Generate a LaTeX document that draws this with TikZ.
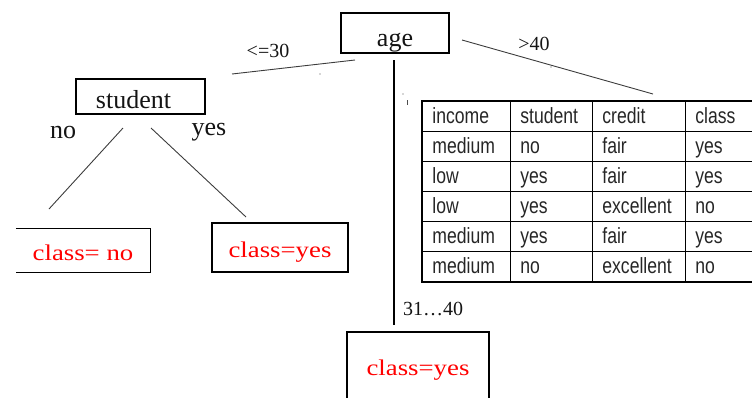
\documentclass[tikz,border=0pt]{standalone}
\usepackage{fontspec}
\setmainfont{Liberation Serif}
\newfontfamily\tblfont[FakeStretch=0.8]{Liberation Sans}
\newfontfamily\redfont[FakeStretch=1.19]{Liberation Serif}
\definecolor{lbl}{RGB}{20,20,20}
\definecolor{conn}{RGB}{60,60,60}
\begin{document}
\begin{tikzpicture}[x=1pt,y=-1pt,
  box/.style={draw=black,line width=1.3pt,inner sep=0pt},
  blk/.style={font=\fontsize{26}{28}\selectfont,text=lbl},
  leaf/.style={font=\redfont\fontsize{22.5}{24}\selectfont,text=red},
  edgelbl/.style={font=\fontsize{20}{22}\selectfont,text=lbl,inner sep=0pt,anchor=base},
  branch/.style={draw=conn,line width=0.9pt},
  cell/.style={draw=black,line width=0.8pt,anchor=north west,inner xsep=10pt,inner ysep=0pt,
    minimum height=30pt,text height=17pt,text depth=2pt,align=left,
    font=\tblfont\fontsize{22}{24}\selectfont,text=black!85}]
\useasboundingbox (0,0) rectangle (752,397);
\clip (0,0) rectangle (752,397);

% tree nodes
\node[box,blk,minimum width=108pt,minimum height=40pt,text height=28pt,text depth=2pt] (age) at (395,33) {age};
\node[box,blk,minimum width=129pt,minimum height=35pt,text height=25pt,text depth=2pt] (student) at (140.5,96.5) {student\hspace*{14pt}};
\node[leaf,inner sep=0pt,minimum width=134pt,minimum height=43pt,text height=21pt,text depth=2pt] (cno) at (83,250.5) {class= no};
\draw[line width=1.3pt] (cno.north west) -- (cno.north east) -- (cno.south east) -- (cno.south west);
\node[box,leaf,minimum width=136pt,minimum height=49pt,text height=21pt,text depth=2pt] (cyes) at (280,247.5) {class=yes};
\node[box,leaf,minimum width=142pt,minimum height=86pt,text height=12pt,text depth=12pt] (cmid) at (418,375) {class=yes};

% edge labels
\node[edgelbl] (l30) at (268,57) {<=30};
\node[edgelbl] (l40) at (534,50) {>40};
\node[edgelbl] (l3140) at (433,315) {31\ldots40};
\node[blk,inner sep=0pt,anchor=base] (lno) at (63,138) {no};
\node[blk,inner sep=0pt,anchor=base] (lyes) at (209,135) {yes};

% connector end points
\coordinate (a1) at (355,60); \coordinate (s1) at (232,74);
\coordinate (a2) at (462,40); \coordinate (t1) at (653,94);
\coordinate (a3) at (394,60); \coordinate (m1) at (394,325);
\coordinate (sn) at (123,128); \coordinate (n1) at (49,209);
\coordinate (sy) at (151,128); \coordinate (y1) at (246,217);
\draw[branch] (a1) -- (s1);
\draw[branch] (a2) -- (t1);
\draw[draw=black,line width=1.1pt] (a3) -- (m1);
\draw[branch] (sn) -- (n1);
\draw[branch] (sy) -- (y1);

% stray marks
\fill[black!70] (320,74) circle (0.7pt);
\fill[black!70] (551,67) circle (0.7pt);
\fill[black!70] (403,94) circle (0.6pt);
\draw[black!70,line width=0.8pt] (407,100) -- (407,105);

% table
\foreach \r/\ca/\cb/\cc/\cd in {0/income/student/credit/class,
  1/medium/no/fair/yes, 2/low/yes/fair/yes, 3/low/yes/excellent/no,
  4/medium/yes/fair/yes, 5/medium/no/excellent/no}{
  \node[cell,minimum width=88pt,text width=68pt] (t\r a) at (422,{101+30*\r}) {\ca};
  \node[cell,minimum width=82pt,text width=62pt] (t\r b) at (510,{101+30*\r}) {\cb};
  \node[cell,minimum width=93pt,text width=73pt] (t\r c) at (592,{101+30*\r}) {\cc};
  \node[cell,minimum width=105pt,text width=85pt] (t\r d) at (685,{101+30*\r}) {\cd};
}
\draw[line width=2.4pt] (t0a.north west) rectangle (t5d.south east);
\end{tikzpicture}
\end{document}
